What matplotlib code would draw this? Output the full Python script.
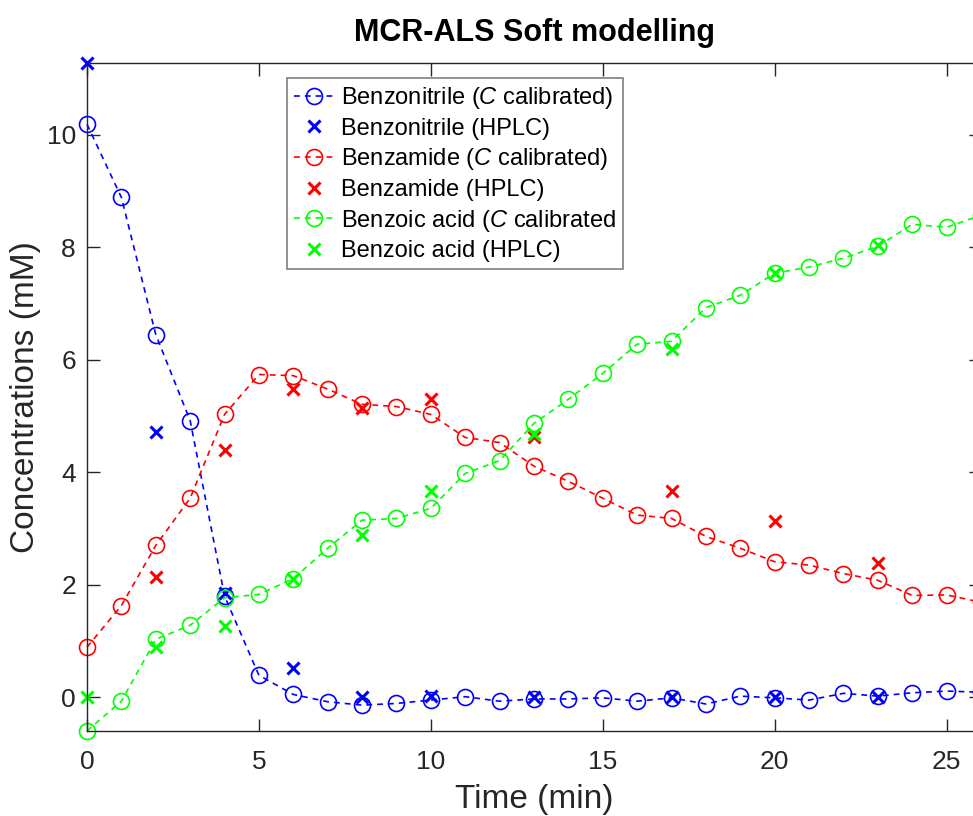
import matplotlib
matplotlib.use("Agg")
import matplotlib.pyplot as plt

plt.rcParams['font.family'] = ['Liberation Sans', 'DejaVu Sans']
plt.rcParams['mathtext.fontset'] = 'custom'
plt.rcParams['mathtext.it'] = 'Liberation Sans:italic'
plt.rcParams['mathtext.rm'] = 'Liberation Sans'

# Sampling times (min)
t_model = list(range(0, 27))
t_hplc = [0, 2, 4, 6, 8, 10, 13, 17, 20, 23]
t_hplc_amide = [2, 4, 6, 8, 10, 13, 17, 20, 23]

# MCR-ALS calibrated concentrations (mM)
benzonitrile_c = [10.19, 8.89, 6.45, 4.92, 1.80, 0.39, 0.05, -0.08, -0.14, -0.11,
                  -0.05, 0.01, -0.07, -0.03, -0.03, -0.01, -0.07, -0.01, -0.12, 0.02,
                  -0.01, -0.05, 0.07, 0.02, 0.08, 0.11, 0.09]
benzamide_c = [0.89, 1.63, 2.70, 3.54, 5.03, 5.74, 5.72, 5.48, 5.21, 5.17,
               5.03, 4.62, 4.53, 4.11, 3.84, 3.54, 3.24, 3.18, 2.86, 2.65,
               2.41, 2.35, 2.20, 2.08, 1.81, 1.82, 1.69]
benzoic_c = [-0.60, -0.07, 1.03, 1.28, 1.77, 1.83, 2.11, 2.65, 3.15, 3.18,
             3.36, 3.98, 4.21, 4.87, 5.30, 5.76, 6.28, 6.33, 6.93, 7.15,
             7.54, 7.65, 7.81, 8.02, 8.41, 8.36, 8.57]

# HPLC reference concentrations (mM)
benzonitrile_h = [11.28, 4.71, 1.85, 0.52, 0.01, 0.02, 0.01, 0.01, 0.01, 0.01]
benzamide_h = [2.14, 4.39, 5.48, 5.14, 5.30, 4.62, 3.66, 3.13, 2.39]
benzoic_h = [0.00, 0.89, 1.26, 2.10, 2.88, 3.66, 4.69, 6.19, 7.54, 8.04]

labels = ["Benzonitrile ($\\it{C}$ calibrated)", "Benzonitrile (HPLC)",
          "Benzamide ($\\it{C}$ calibrated)", "Benzamide (HPLC)",
          "Benzoic acid ($\\it{C}$ calibrated", "Benzoic acid (HPLC)"]

fig = plt.figure(figsize=(9.73, 8.16), dpi=100)
ax = fig.add_axes([87 / 973, 85 / 816, 894 / 973, 668 / 816])

series = [
    (benzonitrile_c, t_hplc, benzonitrile_h, (0, 0, 1)),
    (benzamide_c, t_hplc_amide, benzamide_h, (1, 0, 0)),
    (benzoic_c, t_hplc, benzoic_h, (0, 1, 0)),
]

handles = []
for calc, th, hplc, col in series:
    l1, = ax.plot(t_model, calc, linestyle=(0, (3.5, 3.0)), color=col, lw=1.2,
                  marker='o', markersize=11.5, markerfacecolor='none',
                  markeredgecolor=col, markeredgewidth=1.2, clip_on=False)
    l2, = ax.plot(th, hplc, linestyle='none', marker='x', color=col,
                  markersize=9, markeredgewidth=2.2, clip_on=False)
    handles += [l1, l2]

ax.set_xlim(0, 26)
ax.set_ylim(-0.6, 11.28)
ax.set_xticks([0, 5, 10, 15, 20, 25])
ax.set_yticks([0, 2, 4, 6, 8, 10])

axis_col = '#262626'
for s in ax.spines.values():
    s.set_color(axis_col)
    s.set_linewidth(1.0)
ax.tick_params(direction='in', length=9, width=1.0, colors=axis_col,
               labelsize=19, top=True, right=True)
ax.tick_params(axis='x', pad=14)
ax.tick_params(axis='y', pad=8)
for lab in ax.get_xticklabels() + ax.get_yticklabels():
    lab.set_color(axis_col)

ax.set_xlabel("Time (min)", fontsize=24, color=axis_col, labelpad=7)
ax.set_ylabel("Concentrations (mM)", fontsize=24, color=axis_col, labelpad=4)
ax.set_title("MCR-ALS Soft modelling", fontsize=22, fontweight='bold',
             color='black', pad=16)

leg = ax.legend(handles, labels, loc='upper left',
                bbox_to_anchor=(200 / 894, (731 - 78) / 668),
                borderaxespad=0, fontsize=17, handlelength=1.7,
                handletextpad=0.3, labelspacing=0.28, borderpad=0.3,
                fancybox=False, framealpha=1, edgecolor='#7f7f7f')
leg.get_frame().set_linewidth(1.2)
for txt in leg.get_texts():
    txt.set_color('black')

fig.savefig("out.png", dpi=100)
